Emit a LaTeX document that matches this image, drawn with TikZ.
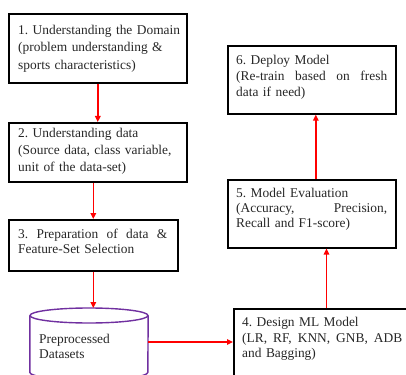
\documentclass[tikz,border=0pt]{standalone}
\usepackage{fontspec}
\setmainfont{Liberation Serif}
\usetikzlibrary{arrows.meta,calc}
\definecolor{cylpurple}{HTML}{7030A0}
\newcommand{\jline}[2]{\leavevmode\hbox to #1{#2}}
\begin{document}
\begin{tikzpicture}[x=1pt,y=-1pt,
  box/.style={draw=black, line width=1.6pt, rectangle, inner sep=0pt, anchor=north west},
  txt/.style={anchor=north west, inner sep=0pt, text=black!85, align=left},
  flow/.style={draw=red, line width=1.4pt, -{Triangle[length=6pt,width=5.5pt]}}]
\useasboundingbox (0,0) rectangle (406,374);
\clip (0,0) rectangle (406,374);
% boxes
\node[box, minimum width=178pt, minimum height=69pt] (b1) at (8,13) {};
\node[box, minimum width=178pt, minimum height=59pt] (b2) at (8,122) {};
\node[box, minimum width=169pt, minimum height=51pt] (b3) at (8,219) {};
\node[box, line width=2pt, minimum width=185pt, minimum height=100pt] (b4) at (233,308) {};
\node[box, minimum width=168pt, minimum height=68pt] (b5) at (227,179) {};
\node[box, minimum width=168pt, minimum height=68pt] (b6) at (227,45) {};
% texts
\node[txt, text width=170pt, font=\fontsize{13.4}{17.5}\selectfont\frenchspacing] (t1) at ($(b1.north west)+(10,12)$)
  {1. Understanding the Domain\\(problem understanding \&\\sports characteristics)};
\node[txt, text width=170pt, font=\fontsize{13.4}{17}\selectfont\frenchspacing] (t2) at ($(b2.north west)+(10,6)$)
  {2. Understanding data\\(Source data, class variable,\\unit of the data-set)};
\node[txt, text width=149pt, font=\fontsize{13.4}{15}\selectfont\frenchspacing] (t3) at ($(b3.north west)+(10,10)$)
  {\jline{149pt}{3.\hfill Preparation\hfill of\hfill data\hfill \&}\\Feature-Set Selection};
\node[txt, text width=160pt, font=\fontsize{13.4}{15.5}\selectfont\frenchspacing] (t4) at ($(b4.north west)+(9,9)$)
  {4. Design ML Model\\\jline{160pt}{(LR,\hfill RF,\hfill KNN,\hfill GNB,\hfill ADB}\\and Bagging)};
\node[txt, text width=151pt, font=\fontsize{13.4}{15}\selectfont\frenchspacing] (t5) at ($(b5.north west)+(9,9)$)
  {5. Model Evaluation\\\jline{151pt}{(Accuracy,\hfill Precision,}\\Recall and F1-score)};
\node[txt, text width=151pt, font=\fontsize{13.4}{16}\selectfont\frenchspacing] (t6) at ($(b6.north west)+(9,10)$)
  {6. Deploy Model\\\jline{151pt}{(Re-train\hfill based\hfill on\hfill fresh}\\data if need)};
% cylinder
\node[inner sep=0pt, minimum width=118pt, minimum height=56.5pt, anchor=north] (cyl) at (89,315.5) {};
\draw[cylpurple, line width=1.4pt] (cyl.north west) -- (cyl.south west)
  arc[start angle=180, end angle=360, x radius=59pt, y radius=7.5pt] -- (cyl.north east);
\draw[cylpurple, line width=1.4pt] (cyl.north) ellipse [x radius=59pt, y radius=7.5pt];
\node[txt, font=\fontsize{13.4}{15}\selectfont] (tc) at (39,334) {Preprocessed\\Datasets};
\coordinate (cyltop) at (89,308);
\coordinate (cylR) at (148,342);
% connectors
\draw[flow] (b1.south) -- (b2.north);
\draw[flow] (b2.south -| b3.north) -- (b3.north);
\draw[flow] (b3.south) -- (b3.south |- cyltop);
\draw[flow] (cylR) -- (cylR -| b4.west);
\draw[flow] (b4.north) -- (b4.north |- b5.south);
\draw[flow] ($(b5.north)+(4,0)$) -- ($(b6.south)+(4,0)$);
\end{tikzpicture}
\end{document}
